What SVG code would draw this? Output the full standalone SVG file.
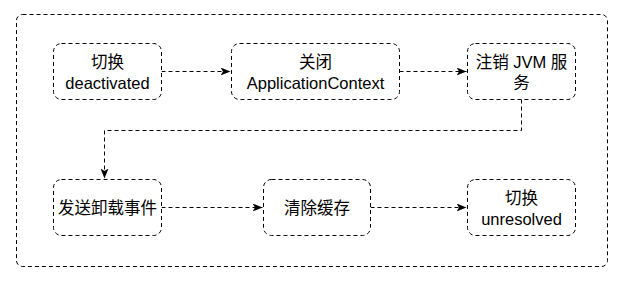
<svg xmlns="http://www.w3.org/2000/svg" width="622" height="282" viewBox="0 0 622 282">
<style>
.box{fill:#fff;stroke:#000;stroke-width:1;stroke-dasharray:4 3}
.frame{fill:#fff;stroke:#000;stroke-width:1;stroke-dasharray:4 3}
.edge{fill:none;stroke:#000;stroke-width:1;stroke-dasharray:4 3}
text{font-family:"Liberation Sans","Noto Sans CJK SC",sans-serif;font-size:16.5px;fill:#000;text-anchor:middle}
</style>
<defs>
<marker id="arr" markerUnits="userSpaceOnUse" markerWidth="11" markerHeight="8" refX="10" refY="4" orient="auto">
<path d="M0,0 L10,4 L0,8 L2.5,4 Z" fill="#000"/>
</marker>
</defs>
<rect class="frame" x="16.5" y="14.5" width="591" height="252" rx="6"/>
<g id="connectors">
<path class="edge" d="M161.5,71.5 H230.5" marker-end="url(#arr)"/>
<path class="edge" d="M399.5,71.5 H466.5" marker-end="url(#arr)"/>
<path class="edge" d="M521.5,99.5 V130.5 H104.5 V178.5" marker-end="url(#arr)"/>
<path class="edge" d="M161.5,207.5 H262.5" marker-end="url(#arr)"/>
<path class="edge" d="M370.5,207.5 H466.5" marker-end="url(#arr)"/>
</g>
<g id="n1">
<rect class="box" x="53.5" y="43.5" width="108" height="56" rx="8"/>
<text x="107.5" y="67.5">切换</text>
<text x="107.5" y="88.5">deactivated</text>
</g>
<g id="n2">
<rect class="box" x="231.5" y="43.5" width="168" height="56" rx="8"/>
<text x="315.5" y="67.5">关闭</text>
<text x="315.5" y="88.5">ApplicationContext</text>
</g>
<g id="n3">
<rect class="box" x="467.5" y="43.5" width="108" height="56" rx="8"/>
<text x="521.5" y="67.5">注销 JVM 服</text>
<text x="521.5" y="88.5">务</text>
</g>
<g id="n4">
<rect class="box" x="53.5" y="179.5" width="108" height="56" rx="8"/>
<text x="107.5" y="214">发送卸载事件</text>
</g>
<g id="n5">
<rect class="box" x="263.5" y="179.5" width="107" height="56" rx="8"/>
<text x="317" y="214">清除缓存</text>
</g>
<g id="n6">
<rect class="box" x="467.5" y="179.5" width="108" height="56" rx="8"/>
<text x="521.5" y="203.5">切换</text>
<text x="521.5" y="224.5">unresolved</text>
</g>
</svg>
